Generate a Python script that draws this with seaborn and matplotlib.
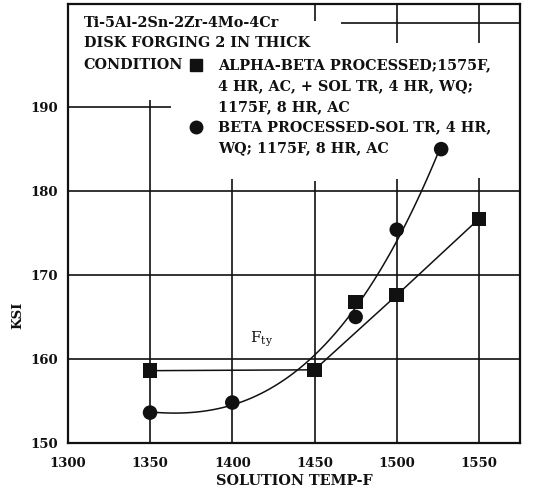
import numpy as np
import pandas as pd
import seaborn as sns
import matplotlib
matplotlib.use("Agg")
import matplotlib.pyplot as plt

# ---------------- data ----------------
ab_temp = [1350, 1450, 1475, 1500, 1550]
ab_ksi = [158.6, 158.7, 166.8, 167.6, 176.7]
ab_on_curve = [True, True, False, True, True]

beta_temp = [1350, 1400, 1475, 1500, 1527]
beta_ksi = [153.6, 154.8, 165.0, 175.4, 185.0]

x_ticks = [1300, 1350, 1400, 1450, 1500, 1550]
y_ticks = [150, 160, 170, 180, 190]

title_lines = ["Ti-5Al-2Sn-2Zr-4Mo-4Cr", "DISK FORGING 2 IN THICK"]
condition_label = "CONDITION"
ab_label = ["ALPHA-BETA PROCESSED;1575F,", "4 HR, AC, + SOL TR, 4 HR, WQ;", "1175F, 8 HR, AC"]
beta_label = ["BETA PROCESSED-SOL TR, 4 HR,", "WQ; 1175F, 8 HR, AC"]
x_label = "SOLUTION TEMP-F"
y_label = "KSI"
curve_label = r"$\mathrm{F_{ty}}$"

ab_df = pd.DataFrame({"temp": ab_temp, "ksi": ab_ksi, "curve": ab_on_curve})
beta_df = pd.DataFrame({"temp": beta_temp, "ksi": beta_ksi})

# ---------------- style ----------------
sns.set_style("white")
plt.rcParams["font.family"] = ["DejaVu Serif"]
plt.rcParams["mathtext.fontset"] = "dejavuserif"
INK = "#111111"
FS = 9.5
LFS = 10.4

fig = plt.figure(figsize=(5.34, 4.97), dpi=100)
ax = fig.add_axes([0.127, 0.109, 0.847, 0.883])
ax.set_xlim(1300, 1575)
ax.set_ylim(150, 202.3)

# partial grid (upper-left region blanked by the legend block)
h_grid = [(160, 1300, 1575), (170, 1300, 1575), (180, 1300, 1575),
          (190, 1300, 1363), (200, 1466, 1575)]
v_grid = [(1350, 150, 190.8), (1400, 150, 181.5), (1450, 150, 181.2),
          (1450, 200.3, 202.3), (1500, 150, 181.5), (1500, 197.6, 202.3),
          (1550, 150, 181.6), (1550, 197.6, 202.3)]
for y, x0, x1 in h_grid:
    ax.hlines(y, x0, x1, color=INK, lw=1.2, zorder=1)
for x, y0, y1 in v_grid:
    ax.vlines(x, y0, y1, color=INK, lw=1.2, zorder=1)

# curves
sns.lineplot(data=ab_df[ab_df["curve"]], x="temp", y="ksi", sort=True,
             color=INK, lw=1.1, ax=ax, zorder=2, estimator=None)
sns.regplot(data=beta_df, x="temp", y="ksi", order=3, ci=None, scatter=False,
            color=INK, line_kws={"lw": 1.1, "zorder": 2}, ax=ax, truncate=True)

# points
sns.scatterplot(data=ab_df, x="temp", y="ksi", marker="s", s=110, color=INK,
                edgecolor="none", ax=ax, zorder=3)
sns.scatterplot(data=beta_df, x="temp", y="ksi", marker="o", s=110, color=INK,
                edgecolor="none", ax=ax, zorder=3)

# axes decoration
ax.set_xticks(x_ticks)
ax.set_yticks(y_ticks)
ax.tick_params(length=0, labelsize=FS, colors=INK)
ax.tick_params(axis="y", pad=7)
ax.tick_params(axis="x", pad=10)
for lab in ax.get_xticklabels() + ax.get_yticklabels():
    lab.set_fontweight("bold")
ax.set_xlabel(x_label, fontsize=LFS, fontweight="bold", color=INK, labelpad=3)
ax.set_ylabel(y_label, fontsize=FS, fontweight="bold", color=INK)
ax.yaxis.set_label_coords(-0.097, 0.29)
for sp in ax.spines.values():
    sp.set_visible(True)
    sp.set_color(INK)
    sp.set_linewidth(1.6)

# legend block
tkw = dict(transform=ax.transAxes, fontsize=LFS, fontweight="bold", color=INK,
           va="center", ha="left")
ax.text(0.035, 0.957, title_lines[0], **tkw)
ax.text(0.035, 0.911, title_lines[1], **tkw)
ax.text(0.035, 0.861, condition_label, **tkw)
ys_ab = [0.861, 0.813, 0.765]
for y, s in zip(ys_ab, ab_label):
    ax.text(0.332, y, s, **tkw)
ys_beta = [0.719, 0.672]
for y, s in zip(ys_beta, beta_label):
    ax.text(0.332, y, s, **tkw)
ax.plot([0.283], [0.861], marker="s", ms=9, color=INK, transform=ax.transAxes, clip_on=False)
ax.plot([0.283], [0.719], marker="o", ms=9, color=INK, transform=ax.transAxes, clip_on=False)

ax.text(1411, 161.2, curve_label, fontsize=FS + 1.5, color=INK, ha="left", va="bottom")

fig.savefig("out.png", dpi=100)
